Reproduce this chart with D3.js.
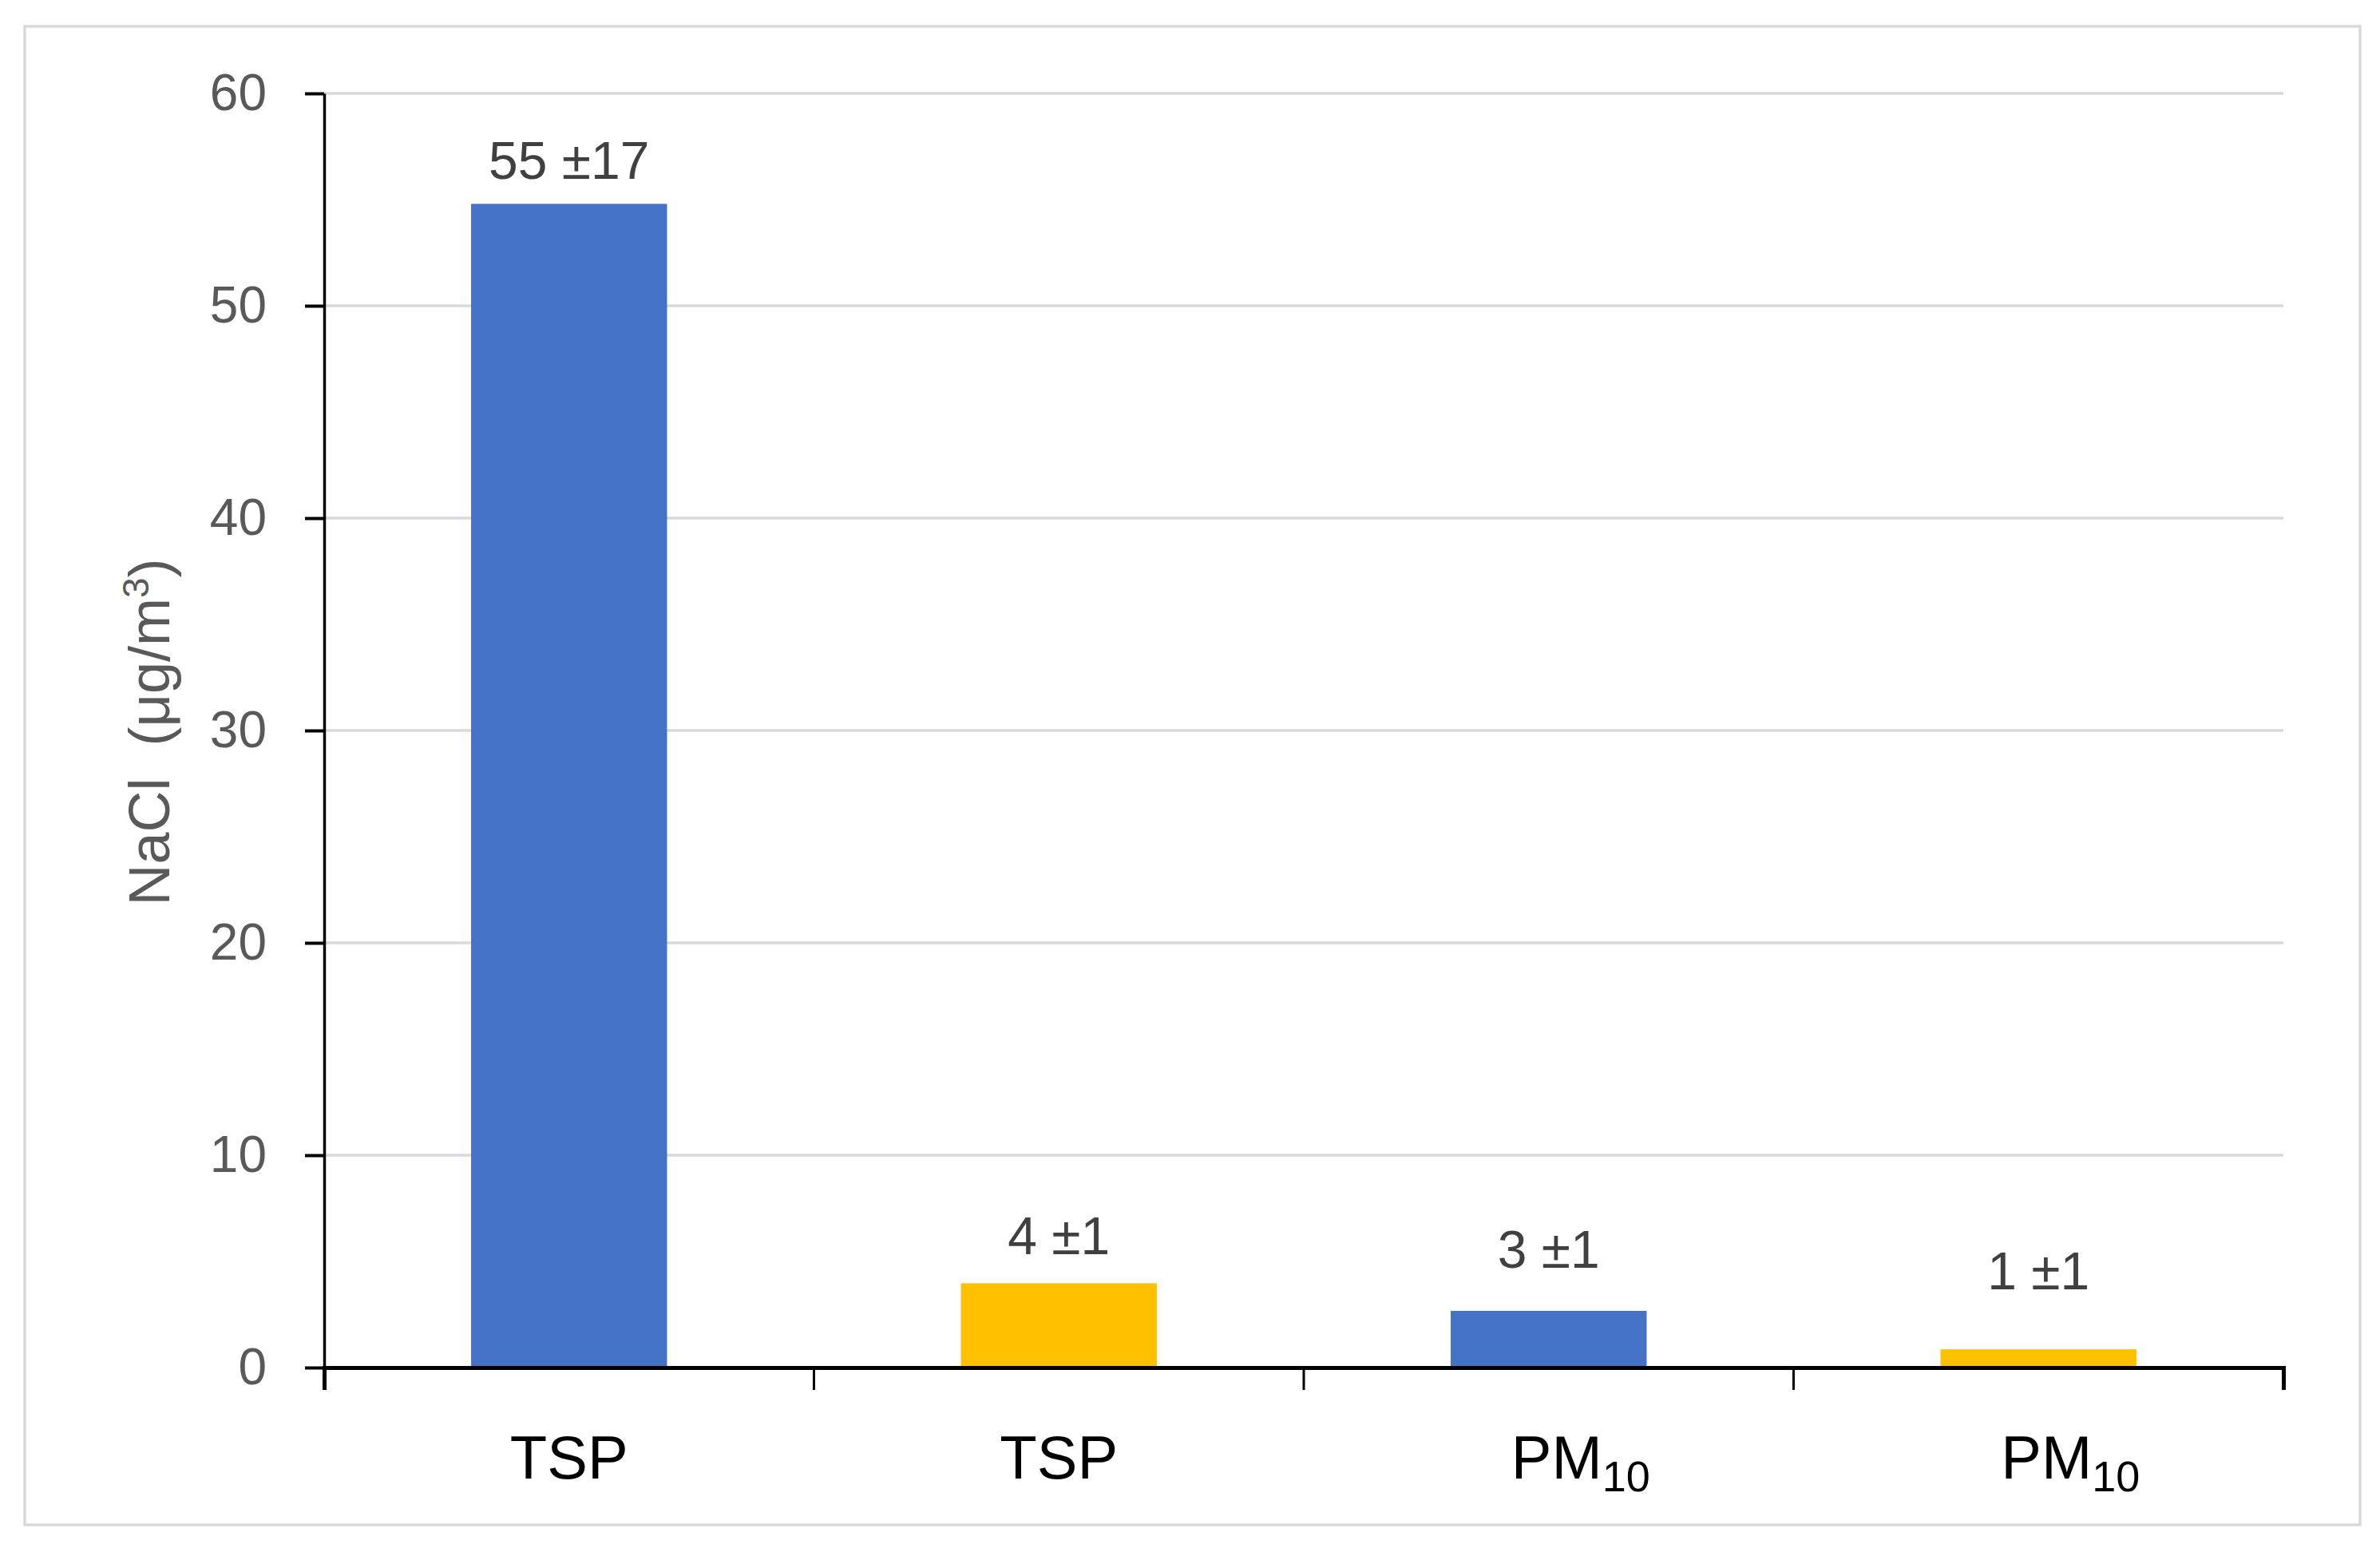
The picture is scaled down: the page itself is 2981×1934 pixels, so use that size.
<!DOCTYPE html>
<html>
<head>
<meta charset="utf-8">
<script src="https://cdn.jsdelivr.net/npm/d3@7"></script>
<style>
  html, body { margin: 0; padding: 0; background: #fff; }
  svg { display: block; }
</style>
</head>
<body>
<script>
// ---- data ----
const categories = ["TSP", "TSP", "PM10", "PM10"];
const values = [54.8, 3.97, 2.67, 0.86];
const valueLabels = ["55 ±17", "4 ±1", "3 ±1", "1 ±1"];
const seriesIndex = [0, 1, 0, 1];
const yTicks = [0, 10, 20, 30, 40, 50, 60];

// ---- layout / style ----
const W = 2981, H = 1934;
const plot = { left: 406, right: 2860, top: 117, bottom: 1713 };
const colors = ["#4472C4", "#FFC000"];
const labelLift = [31, 36, 54, 75];
const font = "'Liberation Sans', Arial, sans-serif";

const svg = d3.select("body").append("svg")
  .attr("width", W).attr("height", H)
  .attr("viewBox", `0 0 ${W} ${H}`);

svg.append("rect").attr("width", W).attr("height", H).attr("fill", "#fff");

// outer frame
svg.append("rect")
  .attr("x", 31).attr("y", 33).attr("width", 2925).attr("height", 1877)
  .attr("fill", "none").attr("stroke", "#d9d9d9").attr("stroke-width", 3.5);

const idx = categories.map((_, i) => i);
const x = d3.scaleBand().domain(idx).range([plot.left, plot.right]).padding(0);
const y = d3.scaleLinear().domain([0, 60]).range([plot.bottom, plot.top]);

// gridlines
svg.append("g").selectAll("line")
  .data(yTicks.filter(t => t > 0))
  .join("line")
  .attr("x1", plot.left).attr("x2", plot.right)
  .attr("y1", d => y(d)).attr("y2", d => y(d))
  .attr("stroke", "#d9d9d9").attr("stroke-width", 3.5);

// bars
const bw = x.bandwidth() * 0.4;
svg.append("g").selectAll("rect")
  .data(values)
  .join("rect")
  .attr("x", (d, i) => x(i) + (x.bandwidth() - bw) / 2)
  .attr("width", bw)
  .attr("y", d => y(d))
  .attr("height", d => y(0) - y(d))
  .attr("fill", (d, i) => colors[seriesIndex[i]]);

// y axis
const yAxis = svg.append("g")
  .attr("transform", `translate(${plot.left},0)`)
  .call(d3.axisLeft(y).tickValues(yTicks).tickSize(24).tickSizeOuter(0).tickPadding(48));
yAxis.select(".domain").attr("stroke", "#000").attr("stroke-width", 3.5);
yAxis.selectAll(".tick line").attr("stroke", "#000").attr("stroke-width", 4);
yAxis.selectAll(".tick text")
  .attr("font-family", font).attr("font-size", 64).attr("fill", "#595959");

// x axis (ticks at category boundaries)
const xAxis = svg.append("g")
  .attr("transform", `translate(0,${plot.bottom})`)
  .call(d3.axisBottom(x).tickSizeInner(0).tickSizeOuter(28).tickFormat(""));
xAxis.select(".domain").attr("stroke", "#000").attr("stroke-width", 5);
xAxis.selectAll(".tick line").remove();
xAxis.append("g").selectAll("line")
  .data(idx.slice(1))
  .join("line")
  .attr("x1", d => x(d)).attr("x2", d => x(d))
  .attr("y1", 0).attr("y2", 28)
  .attr("stroke", "#000").attr("stroke-width", 3);

// category labels
const catG = svg.append("g");
categories.forEach((c, i) => {
  const m = c.match(/^([A-Za-z]+)(\d+)$/);
  const t = catG.append("text")
    .attr("x", x(i) + x.bandwidth() / 2 + (m ? 40 : 0))
    .attr("y", 1852)
    .attr("text-anchor", "middle")
    .attr("font-family", font).attr("font-size", 76).attr("fill", "#000");
  if (m) {
    t.append("tspan").text(m[1]);
    t.append("tspan").attr("font-size", 54).attr("dy", 16).text(m[2]);
  } else {
    t.text(c);
  }
});

// value labels
svg.append("g").selectAll("text")
  .data(values)
  .join("text")
  .attr("x", (d, i) => x(i) + x.bandwidth() / 2)
  .attr("y", (d, i) => y(d) - labelLift[i])
  .attr("text-anchor", "middle")
  .attr("font-family", font).attr("font-size", 66).attr("fill", "#404040")
  .text((d, i) => valueLabels[i]);

// y axis title
const title = svg.append("text")
  .attr("transform", "translate(212,917) rotate(-90)")
  .attr("text-anchor", "middle")
  .attr("font-family", font).attr("font-size", 72).attr("fill", "#595959")
  .attr("xml:space", "preserve");
title.append("tspan").text("NaCl\u00a0\u00a0(μg/m");
title.append("tspan").attr("font-size", 46).attr("dy", -26).text("3");
title.append("tspan").attr("dy", 26).text(")");
</script>
</body>
</html>
